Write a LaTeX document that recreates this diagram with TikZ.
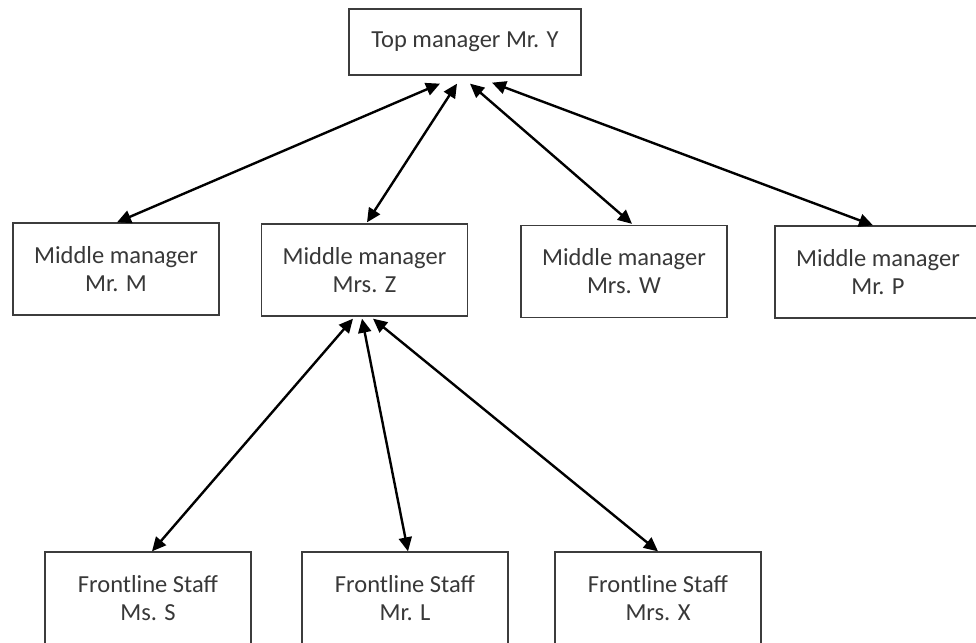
\documentclass[tikz,border=0pt]{standalone}
\usepackage{fontspec}
\setmainfont{Carlito}
\usetikzlibrary{arrows.meta}
\definecolor{boxline}{HTML}{3C3C3C}
\definecolor{boxtext}{HTML}{383838}
\tikzset{
  orgbox/.style={draw=boxline, line width=1.3pt, fill=white, text=boxtext,
    align=center, inner sep=0pt,
    font=\fontsize{24.5pt}{28pt}\selectfont},
  topbox/.style={orgbox, minimum width=232pt, minimum height=66pt},
  unitbox/.style={orgbox, minimum width=206pt, minimum height=92pt},
  link/.style={line width=2.4pt, draw=black,
    {Triangle[length=14pt,width=13pt]}-{Triangle[length=14pt,width=13pt]}}
}
\begin{document}
\begin{tikzpicture}[x=1pt, y=-1pt]
\useasboundingbox (0,0) rectangle (976,642);
\clip (0,0) rectangle (976,642);

% top level
\node[topbox] (top) at (465,42) {Top manager Mr. Y};

% middle managers
\node[unitbox] (mM) at (116,269)   {Middle manager\\Mr. M};
\node[unitbox] (mZ) at (364.5,270) {Middle manager\\Mrs. Z};
\node[unitbox] (mW) at (624,271.5) {Middle manager\\Mrs. W};
\node[unitbox] (mP) at (878,272)   {Middle manager\\Mr. P};

% frontline staff
\node[unitbox] (fS) at (148,598) {Frontline Staff\\Ms. S};
\node[unitbox] (fL) at (405,598) {Frontline Staff\\Mr. L};
\node[unitbox] (fX) at (658,598) {Frontline Staff\\Mrs. X};

% top manager <-> middle managers
\draw[link] ([shift={(-25,8)}]top.south) -- ([shift={(1,0)}]mM.north);
\draw[link] ([shift={(-8,8)}]top.south)  -- ([shift={(2.5,-1)}]mZ.north);
\draw[link] ([shift={(5,8)}]top.south)   -- ([shift={(8,-1)}]mW.north);
\draw[link] ([shift={(27,7)}]top.south)  -- ([shift={(-5,0)}]mP.north);

% Mrs. Z <-> frontline staff
\draw[link] ([shift={(-11.5,2)}]mZ.south) -- ([shift={(4,0)}]fS.north);
\draw[link] ([shift={(-2.5,2)}]mZ.south)  -- ([shift={(3,0)}]fL.north);
\draw[link] ([shift={(8.5,2)}]mZ.south)   -- (fX.north);
\end{tikzpicture}
\end{document}
